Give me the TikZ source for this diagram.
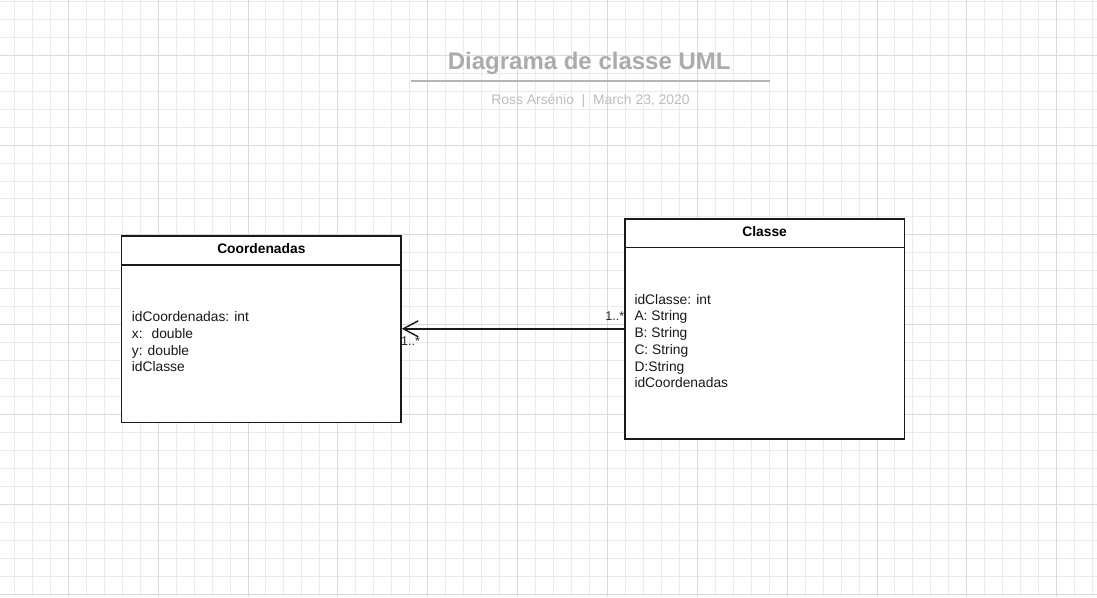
\documentclass[tikz,border=0pt]{standalone}
\usepackage{fontspec}
\setmainfont{Liberation Sans}
\usetikzlibrary{arrows.meta}
\definecolor{gridminor}{HTML}{EBEBEB}
\definecolor{gridmajor}{HTML}{DADADA}
\definecolor{titlegrey}{HTML}{ABABAB}
\definecolor{subgrey}{HTML}{BDBDBD}
\definecolor{lineblack}{HTML}{1A1A1A}
\tikzset{
  umlbox/.style={draw=lineblack, line width=1.5pt, fill=white, inner sep=0pt, rectangle},
  hdr/.style={font=\fontsize{13.8}{16}\selectfont\bfseries, text=black, inner sep=0pt, anchor=base},
  attr/.style={font=\fontsize{13.8}{16}\selectfont, text=black!90, inner sep=0pt, anchor=base west},
  mult/.style={font=\fontsize{12.6}{14}\selectfont, text=black!85, inner sep=0pt},
  conn/.style={draw=lineblack, line width=1.4pt, -{Straight Barb[length=15pt,width=16pt,line width=1.4pt]}},
  sepline/.style={draw=lineblack, line width=1.5pt},
}
\begin{document}
\begin{tikzpicture}[x=1pt,y=-1pt]
\useasboundingbox (0,0) rectangle (1097,597);
\fill[white] (0,0) rectangle (1097,597);
% grid
\foreach \k in {0,...,61} {
  \pgfmathsetmacro{\gx}{14.39+17.971*\k}
  \draw[gridminor, line width=1pt] (\gx,0) -- (\gx,597);
}
\foreach \k in {0,...,33} {
  \pgfmathsetmacro{\gy}{1.3+17.97*\k}
  \draw[gridminor, line width=1pt] (0,\gy) -- (1097,\gy);
}
\foreach \k in {0,...,11} {
  \pgfmathsetmacro{\gx}{68.3+89.855*\k}
  \draw[gridmajor, line width=1pt] (\gx,0) -- (\gx,597);
}
\foreach \k in {0,...,6} {
  \pgfmathsetmacro{\gy}{55.2+89.85*\k}
  \draw[gridmajor, line width=1pt] (0,\gy) -- (1097,\gy);
}
% title
\node[font=\fontsize{24}{26}\selectfont\bfseries, text=titlegrey, inner sep=0pt, anchor=base] (title) at (589.2,69.3) {Diagrama de classe UML};
\coordinate (ulL) at (411,81);
\coordinate (ulR) at (770,81);
\draw[titlegrey!90, line width=1.5pt] (ulL) -- (ulR);
\node[font=\fontsize{13.9}{16}\selectfont, text=subgrey, inner sep=0pt, anchor=base] (sub) at (590.5,104) {Ross Arsénio \ |\ \ March 23, 2020};
% Coordenadas box
\node[umlbox, minimum width=279.3pt, minimum height=186.7pt] (coord) at (261.35,329.35) {};
\coordinate (ch) at (0,265);
\draw[sepline] (coord.west |- ch) -- (coord.east |- ch);
\node[hdr] (coordT) at (261.35,253.3) {Coordenadas};
\foreach \t [count=\i] in {{idCoordenadas: int},{x: \ double},{y: double},{idClasse}} {
  \node[attr] (ca\i) at (131.7,{321.5+16.8*(\i-1)}) {\t};
}
% Classe box
\node[umlbox, minimum width=279.3pt, minimum height=220pt] (classe) at (764.65,329) {};
\coordinate (kh) at (0,247.7);
\draw[sepline] (classe.west |- kh) -- (classe.east |- kh);
\node[hdr] (classeT) at (764.65,236.7) {Classe};
\foreach \t [count=\i] in {{idClasse: int},{A: String},{B: String},{C: String},{D:String},{idCoordenadas}} {
  \node[attr] (ka\i) at (634.3,{304.1+16.75*(\i-1)}) {\t};
}
% connector
\coordinate (cy) at (0,328.8);
\draw[conn] (classe.west |- cy) -- (coord.east |- cy);
\node[mult, anchor=base east] (m1) at (624.5,320) {1..*};
\node[mult, anchor=base west] (m2) at (401,345) {1..*};
\end{tikzpicture}
\end{document}
